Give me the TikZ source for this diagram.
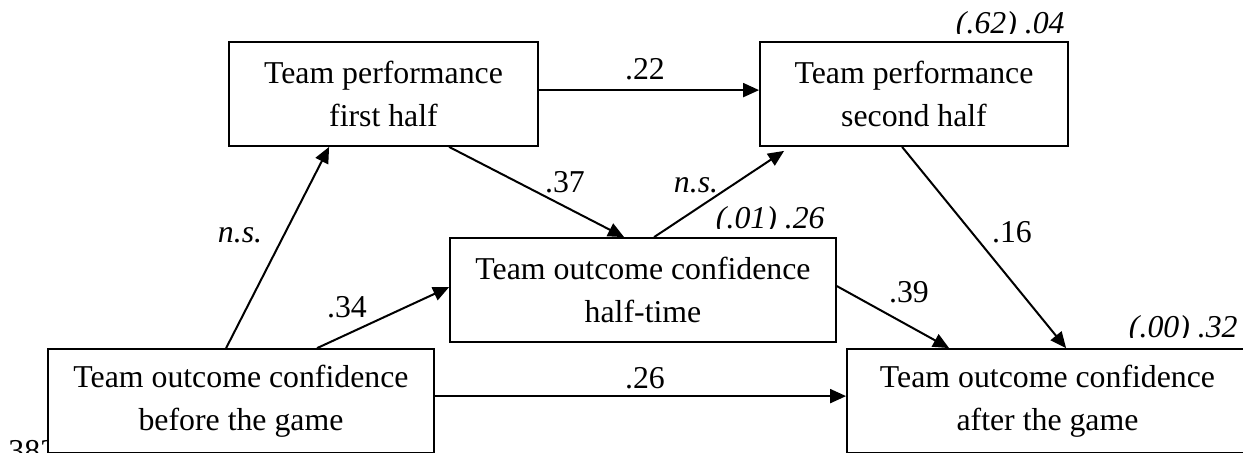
\documentclass[tikz,border=0pt]{standalone}
\usepackage{fontspec}
\setmainfont{Liberation Serif}
\usetikzlibrary{arrows.meta,calc}

\tikzset{
  txt/.style={font=\fontsize{15.9pt}{21.5pt}\selectfont},
  var/.style={txt, draw, line width=0.9pt, fill=white, align=center,
              inner sep=0pt, minimum height=52pt},
  conn/.style={line width=1pt, -{Triangle[length=8pt,width=7pt]}},
  coef/.style={txt, anchor=base, inner sep=0pt},
  rsq/.style={font=\fontsize{15.9pt}{21.5pt}\selectfont\itshape,
              anchor=base east, inner sep=0pt},
}

\begin{document}
\begin{tikzpicture}[x=0.5pt, y=-0.5pt]
  \useasboundingbox (0,0) rectangle (1243,452);
  \clip (0,0) rectangle (1243,452);

  % page number, partly hidden behind the first box
  \node[txt, anchor=base west, inner sep=0pt] (page) at (8,461) {382};

  % variables
  \node[var, minimum width=154.5pt] (A) at (383.5,94) {Team performance\\first half};
  \node[var, minimum width=154pt]   (B) at (914,94)   {Team performance\\second half};
  \node[var, minimum width=193pt]   (H) at (643,290)  {Team outcome confidence\\half-time};
  \node[var, minimum width=193pt]   (P) at (241,401)  {Team outcome confidence\\before the game};
  \node[var, minimum width=200.5pt] (Q) at (1047.5,401) {Team outcome confidence\\after the game};

  % paths
  \coordinate (nsTip) at ($(B.south west)+(25,4)$);
  \draw[conn] ($(P.north west)+(179,0)$) -- ($(A.south west)+(101,0)$);
  \draw[conn] ($(P.north west)+(270,0)$) -- ($(H.north west)+(0,50)$);
  \draw[conn] ($(A.north east)+(0,49)$)  -- ($(B.north west)+(0,49)$);
  \draw[conn] ($(A.south west)+(221,0)$) -- ($(H.north west)+(175,0)$);
  \draw[conn] ($(H.north west)+(205,0)$) -- (nsTip);
  \draw[conn] ($(B.south west)+(143,0)$) -- ($(Q.north west)+(220,0)$);
  \draw[conn] ($(H.north east)+(0,49)$)  -- ($(Q.north west)+(103,0)$);
  \draw[conn] ($(P.north east)+(0,48)$)  -- ($(Q.north west)+(0,48)$);

  % path coefficients
  \node[coef] (c22) at (645,79)  {.22};
  \node[coef] (c26) at (645,388) {.26};
  \node[coef, font=\fontsize{15.9pt}{21.5pt}\selectfont\itshape] (cns1) at (240,242) {n.s.};
  \node[coef] (c34) at (347,317) {.34};
  \node[coef] (c37) at (565,192) {.37};
  \node[coef, font=\fontsize{15.9pt}{21.5pt}\selectfont\itshape] (cns2) at (696,192) {n.s.};
  \node[coef] (c16) at (1012,242) {.16};
  \node[coef] (c39) at (909,302) {.39};

  % explained variance, cut at the baseline
  \begin{scope}
    \clip (900,0) rectangle (1080,33);
    \node[rsq] (rB) at (1065,33) {(.62) .04};
  \end{scope}
  \begin{scope}
    \clip (650,180) rectangle (840,228);
    \node[rsq] (rH) at (825,228) {(.01) .26};
  \end{scope}
  \begin{scope}
    \clip (1050,290) rectangle (1243,337);
    \node[rsq] (rQ) at (1238,337) {(.00) .32};
  \end{scope}
\end{tikzpicture}
\end{document}
